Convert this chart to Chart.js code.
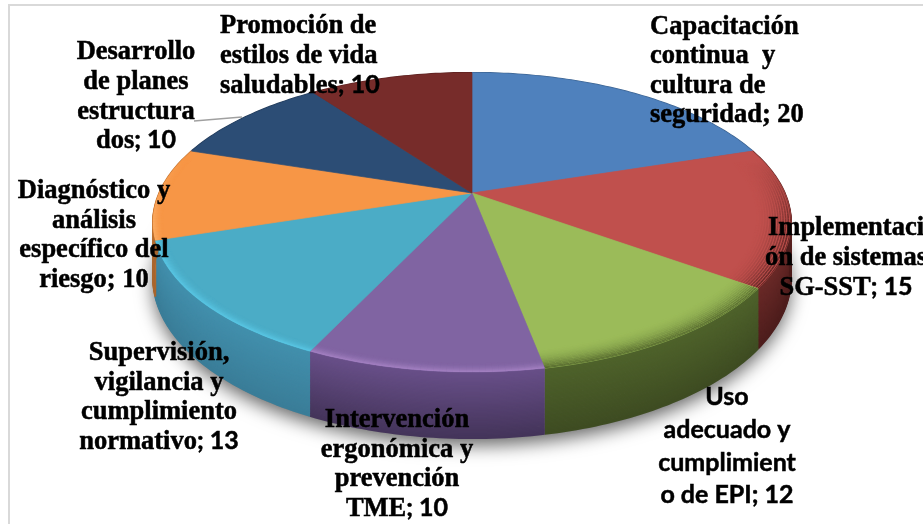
<!DOCTYPE html>
<html>
<head>
<meta charset="utf-8">
<title>Pie</title>
<script src="https://cdn.jsdelivr.net/npm/chart.js@4"></script>
<style>
  html, body { margin: 0; padding: 0; background: #fff; overflow: hidden; }
  canvas { display: block; }
</style>
</head>
<body>
<canvas id="pieChart" width="923" height="524"></canvas>
<script>
const categories = [
  "Capacitación continua y cultura de seguridad",
  "Implementación de sistemas SG-SST",
  "Uso adecuado y cumplimiento de EPI",
  "Intervención ergonómica y prevención TME",
  "Supervisión, vigilancia y cumplimiento normativo",
  "Diagnóstico y análisis específico del riesgo",
  "Desarrollo de planes estructurados",
  "Promoción de estilos de vida saludables"
];
const values = [20, 15, 12, 10, 13, 10, 10, 10];

const labelLines = [
  ["Capacitación", "continua  y", "cultura de", "seguridad"],
  ["Implementaci", "ón de sistemas", "SG-SST"],
  ["Uso", "adecuado y", "cumplimient", "o de EPI"],
  ["Intervención", "ergonómica y", "prevención", "TME"],
  ["Supervisión,", "vigilancia y", "cumplimiento", "normativo"],
  ["Diagnóstico y", "análisis", "específico del", "riesgo"],
  ["Desarrollo", "de planes", "estructura", "dos"],
  ["Promoción de", "estilos de vida", "saludables"]
];

// colours
const sliceColors = ["#4f81bd", "#c0504d", "#9bbb59", "#8064a2", "#4bacc6", "#f79646", "#2c4d75", "#772c2a"];
const wallTop = ["#3b618e", "#6b2a28", "#4f632b", "#69508a", "#4290ad", "#c77a38", "#223a58", "#5a2120"];
const wallBottom = ["#2c4869", "#4d1d1c", "#3e4c22", "#44345a", "#3a7d98", "#a8652d", "#1a2c42", "#431918"];
const rimColors = ["#4f81bd", "#5a2321", "#55692e", "#a27fc0", "#58c4e2", "#fbab62", "#2c4d75", "#772c2a"];
const rimDepth = [0.01, 0.11, 0.09, 0.04, 0.035, 0.03, 0.01, 0.01];

// label placement: x, first baseline, line gap, align
const labelPos = [
  { x: 650, y: 34, gap: 29.3, align: "left" },
  { x: 846, y: 235, gap: 30, align: "center" },
  { x: 727, y: 405, gap: 32.8, align: "center" },
  { x: 397, y: 427, gap: 29.6, align: "center" },
  { x: 159, y: 360, gap: 29.6, align: "center" },
  { x: 94, y: 198, gap: 29.6, align: "center" },
  { x: 136, y: 59, gap: 29.8, align: "center" },
  { x: 220, y: 33, gap: 30, align: "left" }
];
const serifFont = "bold 26.5px 'Liberation Serif'";
const sansFont = "bold 25px Lato";
const allSans = [false, false, true, false, false, false, false, false];
const serifValue = [true, false, true, false, false, true, false, false];

// perspective of the tilted pie
const PERSP = 0.197, SPREAD_X = 1.62, SPREAD_Y = 0.745, DROP = 54;
const STEP = Math.PI / 180;

function project(arc, t, r, drop) {
  const w = 1 - PERSP * r * Math.sin(t);
  return {
    x: arc.x + arc.outerRadius * SPREAD_X * r * Math.cos(t) / w,
    y: arc.y + arc.outerRadius * SPREAD_Y * r * Math.sin(t) / w + drop / w
  };
}

function hexRgb(hex) {
  return [1, 3, 5].map(i => parseInt(hex.substr(i, 2), 16));
}

function mix(a, b, f) {
  const ca = hexRgb(a), cb = hexRgb(b);
  return `rgb(${ca.map((c, i) => Math.round(c + (cb[i] - c) * f)).join(",")})`;
}

function arcAngles(arc) {
  const list = [];
  const n = Math.max(2, Math.ceil((arc.endAngle - arc.startAngle) / STEP));
  for (let i = 0; i <= n; i++) list.push(arc.startAngle + (arc.endAngle - arc.startAngle) * i / n);
  return list;
}

function drawShadow(ctx, arcs) {
  ctx.save();
  ctx.shadowColor = "rgba(0,0,0,0.6)";
  ctx.shadowBlur = 18;
  ctx.shadowOffsetY = 6;
  ctx.fillStyle = "#888";
  ctx.beginPath();
  for (let t = 0; t < Math.PI * 2; t += STEP) {
    const p = project(arcs[0], t, 1, DROP);
    ctx.lineTo(p.x, p.y);
  }
  ctx.closePath();
  ctx.fill();
  ctx.restore();
}

// wall is stacked from rim curves, one per pixel of depth
function drawWall(ctx, arc, i) {
  const angles = arcAngles(arc);
  ctx.lineWidth = 2;
  ctx.lineCap = "butt";
  for (let d = 1; d <= DROP; d++) {
    ctx.beginPath();
    angles.forEach(t => {
      const p = project(arc, t, 1, d - 1);
      ctx.lineTo(p.x, p.y);
    });
    ctx.strokeStyle = mix(wallTop[i], wallBottom[i], d / DROP);
    ctx.stroke();
  }
}

function drawTop(ctx, arc, i) {
  const angles = arcAngles(arc);
  ctx.beginPath();
  ctx.moveTo(arc.x, arc.y);
  angles.forEach(t => {
    const p = project(arc, t, 1, 0);
    ctx.lineTo(p.x, p.y);
  });
  ctx.closePath();
  ctx.fillStyle = sliceColors[i];
  ctx.strokeStyle = sliceColors[i];
  ctx.lineWidth = 0.7;
  ctx.fill();
  ctx.stroke();

  // bevel along the rim, stronger towards the viewer
  ctx.save();
  ctx.clip();
  const bands = 14;
  ctx.lineWidth = 1.6;
  for (let b = 0; b < bands; b++) {
    const r = 1 - rimDepth[i] * (1 - (b + 1) / bands);
    const strength = Math.pow((b + 1) / bands, 2);
    for (let k = 0; k < angles.length - 1; k++) {
      const f = Math.min(1, Math.max(0, (Math.sin(angles[k]) + 0.25) / 0.5));
      if (f <= 0) continue;
      const a = project(arc, angles[k], r, 0), c = project(arc, angles[k + 1], r, 0);
      ctx.beginPath();
      ctx.moveTo(a.x, a.y);
      ctx.lineTo(c.x, c.y);
      ctx.strokeStyle = mix(sliceColors[i], rimColors[i], f * strength);
      ctx.stroke();
    }
  }
  ctx.restore();
}

function drawLabel(ctx, i) {
  const pos = labelPos[i];
  const lines = labelLines[i];
  ctx.fillStyle = "#000";
  ctx.strokeStyle = "#000";
  ctx.lineWidth = 0.5;
  ctx.textBaseline = "alphabetic";
  ctx.textAlign = "left";
  lines.forEach((line, n) => {
    const last = n === lines.length - 1;
    const bodyFont = allSans[i] ? sansFont : serifFont;
    const tail = last ? `; ${values[i]}` : "";
    const tailFont = serifValue[i] && !allSans[i] ? serifFont : sansFont;
    ctx.font = bodyFont;
    const w1 = ctx.measureText(line).width;
    ctx.font = tailFont;
    const w2 = ctx.measureText(tail).width;
    const x = pos.align === "center" ? pos.x - (w1 + w2) / 2 : pos.x;
    const y = pos.y + pos.gap * n;
    ctx.font = bodyFont;
    ctx.fillText(line, x, y);
    ctx.strokeText(line, x, y);
    ctx.font = tailFont;
    ctx.fillText(tail, x + w1, y);
    ctx.strokeText(tail, x + w1, y);
  });
}

const pie3d = {
  id: "pie3d",
  beforeDraw(chart) {
    const ctx = chart.ctx;
    ctx.save();
    ctx.strokeStyle = "#d9d9d9";
    ctx.lineWidth = 2;
    ctx.strokeRect(9, 5, 1200, 800);
    ctx.restore();
  },
  beforeDatasetsDraw(chart) {
    const ctx = chart.ctx;
    const arcs = chart.getDatasetMeta(0).data;
    drawShadow(ctx, arcs);
    arcs.forEach((arc, i) => drawWall(ctx, arc, i));
    arcs.forEach((arc, i) => drawTop(ctx, arc, i));

    // leader line of Desarrollo
    ctx.strokeStyle = "#a0a0a0";
    ctx.lineWidth = 1.5;
    ctx.beginPath();
    ctx.moveTo(194, 121);
    ctx.lineTo(242, 117);
    ctx.stroke();

    arcs.forEach((arc, i) => drawLabel(ctx, i));
    return false;
  }
};

new Chart(document.getElementById("pieChart").getContext("2d"), {
  type: "pie",
  data: {
    labels: categories,
    datasets: [{ data: values, backgroundColor: sliceColors, borderWidth: 0 }]
  },
  options: {
    responsive: false,
    animation: false,
    layout: { padding: { left: 21, bottom: 138 } },
    plugins: { legend: { display: false }, tooltip: { enabled: false } }
  },
  plugins: [pie3d]
});
</script>
</body>
</html>
